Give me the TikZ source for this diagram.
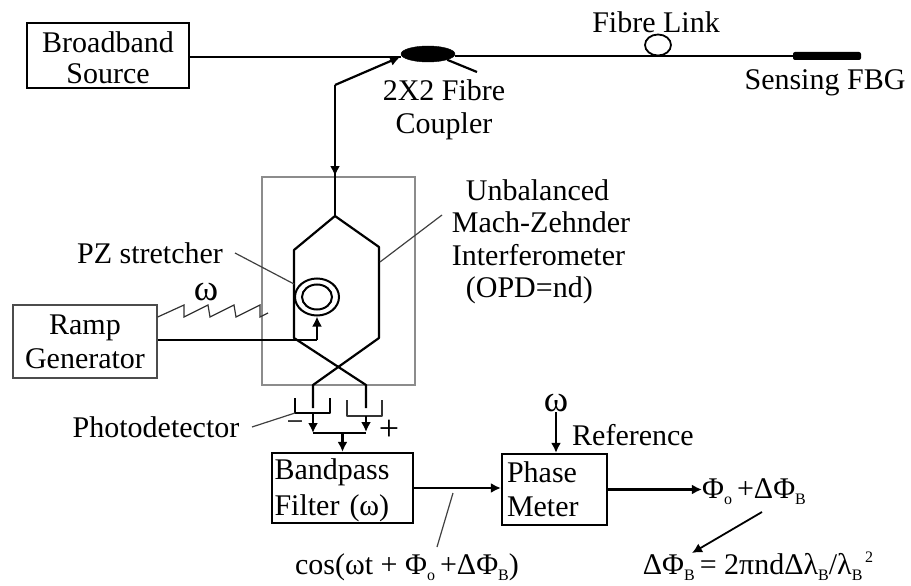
\documentclass[tikz,border=0pt]{standalone}
\usepackage{fontspec}
\setmainfont{Liberation Serif}
\usetikzlibrary{arrows.meta, shapes.geometric}
\newcommand{\lowidx}[1]{\raisebox{-6pt}{\fontsize{16}{16}\selectfont #1}}
\tikzset{
    fibre/.style={line width=2.2pt, line join=round},
    sig/.style={fibre, -{Latex[length=10pt,width=10pt]}},
    thin lead/.style={line width=1.2pt, black!75},
    blockbox/.style={draw, line width=2.2pt, inner sep=0pt, font=\fontsize{30}{34}\selectfont},
    txt/.style={inner sep=0pt, font=\fontsize{30}{32.5}\selectfont, align=center},
    omegatxt/.style={inner sep=0pt, font=\fontsize{37}{37}\selectfont},
}

\begin{document}
\begin{tikzpicture}[x=1pt, y=-1pt]
    \useasboundingbox (0,0) rectangle (911,586);

    % blocks
    \node[blockbox, minimum width=162, minimum height=65, align=center] (source) at (108,55.5) {\rule{0pt}{25.5pt}Broadband\\[-3pt]Source};
    \node[blockbox, draw=black!70, line width=1.4pt, minimum width=144, minimum height=73, align=center] (ramp) at (85,341.5) {Ramp\\Generator};
    \node[blockbox, minimum width=141, minimum height=70, align=left, text width=136] (bandpass) at (342.5,488) {\rule{0pt}{25pt}Bandpass\\[2pt]Filter (ω)};
    \node[blockbox, minimum width=105, minimum height=71, align=left, text width=95] (meter) at (554.5,489.5) {Phase\\Meter};
    \node[draw=black!45, line width=1.6pt, minimum width=153, minimum height=208, inner sep=0pt] (mzbox) at (338.5,281) {};

    % top fibre
    \node[ellipse, draw, fill=black, minimum width=54, minimum height=16, inner sep=0pt] (coupler) at (428,54) {};
    \node[fill=black, rounded corners=2pt, minimum width=68, minimum height=8, inner sep=0pt] (fbg) at (827,56) {};
    \node[ellipse, draw, line width=1.8pt, fill=white, minimum width=26, minimum height=21, inner sep=0pt] (loop) at (658,45) {};
    \draw[fibre] (source.east |- 0,57) -- (coupler.west |- 0,57);
    \draw[fibre] (coupler.east |- 0,56) -- (fbg.west);
    \coordinate (tail) at (477,72);
    \draw[fibre] (coupler.south east) -- (tail);

    % branch down to the interferometer
    \coordinate (bend) at (335,85);
    \coordinate (split) at (335,216);
    \draw[fibre, {Latex[length=10pt,width=10pt]}-] (400,57) -- (bend);
    \draw[sig] (bend) -- (335,176);
    \draw[fibre] (335,170) -- (split);

    % interferometer arms
    \coordinate (leftA) at (294,250);
    \coordinate (leftB) at (294,338);
    \coordinate (rightA) at (379,247);
    \coordinate (rightB) at (379,338);
    \coordinate (outL) at (313,385);
    \coordinate (outR) at (366,385);
    \draw[fibre] (split) -- (leftA) -- (leftB) -- (outR) -- (366,408);
    \draw[fibre] (split) -- (rightA) -- (rightB) -- (outL) -- (313,408);

    % stretcher
    \node[ellipse, draw, line width=2pt, fill=white, minimum width=44, minimum height=37, inner sep=0pt] (pzout) at (317,297) {};
    \node[ellipse, draw, line width=2pt, minimum width=30, minimum height=25, inner sep=0pt] (pzin) at (317,297) {};
    \draw[fibre] (ramp.east |- 0,340) -- (317,340);
    \draw[sig] (317,340) -- (pzout.south);

    % ramp signal
    \draw[line width=1.2pt, black!80] (ramp.north east |- 0,317) -- (184,305) -- (184,317) -- (208,305) -- (210,317) -- (234,305) -- (236,317) -- (260,305) -- (260,317) -- (268,313);
    \node[omegatxt] (omegaramp) at (206,292) {ω};

    % photodetectors
    \coordinate (pdL) at (313,413);
    \coordinate (pdR) at (366,416);
    \draw[fibre] (295,398) -- (295,413) -- (330,413) -- (330,398);
    \draw[fibre, black!80] (347,400) -- (347,416) -- (382,416) -- (382,400);
    \draw[sig] (pdL) -- (313,433);
    \draw[sig] (pdR) -- (366,432);
    \coordinate (busL) at (313,433);
    \coordinate (busR) at (366,433);
    \coordinate (busM) at (bandpass.north |- busL);
    \draw[fibre] (busL) -- (busR);
    \draw[sig] (busM) -- (bandpass.north);
    \node[txt] (minus) at (295,426) {−};
    \node[txt, font=\fontsize{36}{36}\selectfont] (plus) at (389,430) {+};

    % lower signal path
    \draw[sig] (bandpass.east) -- (meter.west |- bandpass.east);
    \node[omegatxt] (omegaref) at (556,403) {ω};
    \draw[sig] (omegaref.south) -- (meter.north -| omegaref);
    \node[txt] (reference) at (633,435) {Reference};
    \node[txt] (phase) at (754,492) {Φ\lowidx{o}\,+ΔΦ\lowidx{B}};
    \draw[sig] (meter.east) -- (phase.west |- meter.east);
    \node[txt] (formula) at (758,566) {ΔΦ\lowidx{B}\,= 2πndΔλ\lowidx{B}/λ\lowidx{B}\raisebox{12pt}{\fontsize{16}{16}\selectfont\,2}};
    \coordinate (phasefoot) at (762,512);
    \coordinate (formulatop) at (692,553);
    \draw[line width=1.8pt, -{Latex[length=10pt,width=10pt]}] (phasefoot) -- (formulatop);
    \node[txt] (cosine) at (407,567) {cos(ωt + Φ\lowidx{o}\,+ΔΦ\lowidx{B})};

    % labels and their leaders
    \node[txt] (fibrelink) at (656,22) {Fibre Link};
    \node[txt] (cplr) at (444,110) {2X2 Fibre\\Coupler};
    \node[txt] (sensing) at (825,83) {Sensing FBG};
    \node[txt] (pzlabel) at (150,253) {PZ stretcher};
    \node[txt, align=left] (mzlabel) at (541,242) {\hspace*{14pt}Unbalanced\\Mach-Zehnder\\Interferometer\\\hspace*{14pt}(OPD=nd)};
    \node[txt] (pdlabel) at (156,427) {Photodetector};
    \draw[thin lead] (235,253) -- (294,284);
    \draw[thin lead] (380,262) -- (442,215);
    \draw[thin lead] (252,427) -- (295,413);
    \draw[thin lead] (453,493) -- (437,547);
\end{tikzpicture}
\end{document}
